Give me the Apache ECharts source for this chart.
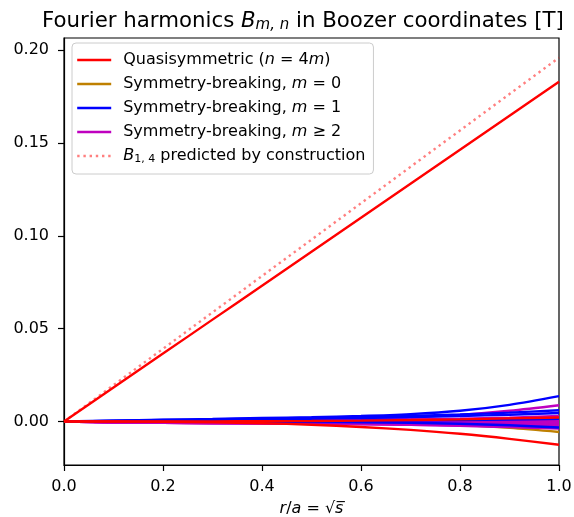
<!DOCTYPE html>
<html>
<head>
<meta charset="utf-8">
<script src="https://cdn.jsdelivr.net/npm/echarts@6/dist/echarts.min.js"></script>
<style>
  html, body { margin: 0; padding: 0; background: #fff; }
  #chart { width: 574px; height: 517px; }
</style>
</head>
<body>
<div id="chart"></div>
<script>
// Radial coordinate r/a = sqrt(s) at which each harmonic is sampled
const radius = [0, 0.1, 0.2, 0.3, 0.4, 0.5, 0.6, 0.7, 0.8, 0.9, 1.0];

// Quasisymmetric harmonics (n = 4m)
const quasisymmetric = [
  [0, 0.0183, 0.0366, 0.0549, 0.0732, 0.0915, 0.1098, 0.1281, 0.1464, 0.1647, 0.1830],
  [0, 0.0000, -0.0001, -0.0004, -0.0009, -0.0017, -0.0029, -0.0045, -0.0066, -0.0093, -0.0125],
  [0, 0.0000, 0.0000, 0.0001, 0.0002, 0.0003, 0.0005, 0.0008, 0.0012, 0.0017, 0.0022]
];

// Symmetry-breaking harmonics, m = 0
const breakingM0 = [
  [0, 0.0000, 0.0000, 0.0000, -0.0001, -0.0002, -0.0005, -0.0010, -0.0019, -0.0034, -0.0056],
  [0, 0.0000, 0.0000, 0.0000, 0.0000, 0.0000, -0.0001, -0.0001, -0.0002, -0.0003, -0.0004]
];

// Symmetry-breaking harmonics, m = 1
const breakingM1 = [
  [0, 0.0005, 0.0010, 0.0014, 0.0019, 0.0024, 0.0030, 0.0040, 0.0058, 0.0090, 0.0137],
  [0, 0.0004, 0.0008, 0.0012, 0.0016, 0.0020, 0.0024, 0.0030, 0.0038, 0.0048, 0.0061],
  [0, 0.0003, 0.0006, 0.0009, 0.0012, 0.0015, 0.0019, 0.0024, 0.0030, 0.0037, 0.0046],
  [0, 0.0000, 0.0000, -0.0001, -0.0001, -0.0002, -0.0004, -0.0007, -0.0012, -0.0020, -0.0032],
  [0, 0.0001, 0.0001, 0.0002, 0.0002, 0.0003, 0.0004, 0.0006, 0.0008, 0.0011, 0.0015]
];

// Symmetry-breaking harmonics, m >= 2
const breakingM2 = [
  [0, 0.0001, 0.0002, 0.0004, 0.0006, 0.0009, 0.0014, 0.0022, 0.0036, 0.0058, 0.0088],
  [0, 0.0001, 0.0002, 0.0003, 0.0004, 0.0006, 0.0008, 0.0011, 0.0015, 0.0021, 0.0030],
  [0, 0.0000, 0.0001, 0.0002, 0.0003, 0.0005, 0.0007, 0.0009, 0.0012, 0.0016, 0.0020],
  [0, -0.0001, -0.0001, -0.0001, 0.0000, 0.0001, 0.0003, 0.0005, 0.0008, 0.0011, 0.0015],
  [0, -0.0002, -0.0003, -0.0003, -0.0003, -0.0002, -0.0001, 0.0001, 0.0003, 0.0005, 0.0008],
  [0, -0.0003, -0.0005, -0.0006, -0.0006, -0.0006, -0.0005, -0.0004, -0.0003, -0.0001, 0.0002],
  [0, -0.0004, -0.0006, -0.0007, -0.0008, -0.0009, -0.0010, -0.0010, -0.0009, -0.0007, -0.0004],
  [0, -0.0005, -0.0007, -0.0008, -0.0009, -0.0010, -0.0011, -0.0012, -0.0013, -0.0013, -0.0010],
  [0, -0.0005, -0.0007, -0.0009, -0.0010, -0.0011, -0.0012, -0.0014, -0.0016, -0.0017, -0.0016],
  [0, -0.0004, -0.0007, -0.0009, -0.0010, -0.0012, -0.0014, -0.0016, -0.0019, -0.0021, -0.0022],
  [0, -0.0003, -0.0006, -0.0008, -0.0010, -0.0012, -0.0014, -0.0017, -0.0021, -0.0025, -0.0028],
  [0, -0.0002, -0.0004, -0.0006, -0.0008, -0.0010, -0.0013, -0.0017, -0.0023, -0.0030, -0.0038]
];

// B_{1,4} as predicted by the construction
const predicted = [0, 0.0196, 0.0392, 0.0588, 0.0784, 0.0980, 0.1176, 0.1372, 0.1568, 0.1764, 0.1960];

// Axis ticks
const xTicks = [0, 0.2, 0.4, 0.6, 0.8, 1.0];
const yTicks = [0, 0.05, 0.10, 0.15, 0.20];

const FONT = 'DejaVu Sans';
const NAMES = {
  qs: 'Quasisymmetric (n=4m)',
  m0: 'Symmetry-breaking, m=0',
  m1: 'Symmetry-breaking, m=1',
  m2: 'Symmetry-breaking, m>=2',
  pred: 'B14 predicted by construction'
};
const COLORS = { qs: '#ff0000', m0: '#bf8000', m1: '#0000ff', m2: '#bf00bf', pred: 'rgba(255,0,0,0.5)' };
const LINE_W = 2.4;

function pairs(values) {
  return radius.map((r, i) => [r, values[i]]);
}

function curve(name, color, values, extra) {
  return Object.assign({
    type: 'line',
    name: name,
    data: pairs(values),
    smooth: 0.3,
    symbol: 'none',
    silent: true,
    animation: false,
    lineStyle: { color: color, width: LINE_W, cap: 'butt' },
    itemStyle: { color: color }
  }, extra || {});
}

const series = [];
breakingM0.forEach(v => series.push(curve(NAMES.m0, COLORS.m0, v)));
breakingM2.forEach(v => series.push(curve(NAMES.m2, COLORS.m2, v)));
breakingM1.forEach(v => series.push(curve(NAMES.m1, COLORS.m1, v)));
quasisymmetric.forEach(v => series.push(curve(NAMES.qs, COLORS.qs, v)));
series.push(curve(NAMES.pred, COLORS.pred, predicted, {
  smooth: false,
  lineStyle: { color: COLORS.pred, width: LINE_W, type: [2.4, 3.8], cap: 'butt' }
}));

const legendText = {
  [NAMES.qs]: '{t|Quasisymmetric (}{i|n}{t| = 4}{i|m}{t|)}',
  [NAMES.m0]: '{t|Symmetry-breaking, }{i|m}{t| = 0}',
  [NAMES.m1]: '{t|Symmetry-breaking, }{i|m}{t| = 1}',
  [NAMES.m2]: '{t|Symmetry-breaking, }{i|m}{t| ≥ 2}',
  [NAMES.pred]: '{i|B}{sub|1, 4}{t| predicted by construction}'
};

const chart = echarts.init(document.getElementById('chart'), null, { renderer: 'canvas' });
chart.setOption({
  backgroundColor: '#ffffff',
  animation: false,
  title: {
    left: 37,
    top: 4,
    text: '{t|Fourier harmonics }{i|B}{sub|m, n}{t| in Boozer coordinates [T]}',
    textStyle: {
      fontFamily: FONT,
      fontWeight: 'normal',
      rich: {
        t: { fontFamily: FONT, fontSize: 21.3, fontWeight: 'normal', color: '#000' },
        i: { fontFamily: FONT, fontSize: 21.3, fontWeight: 'normal', fontStyle: 'italic', color: '#000' },
        sub: { fontFamily: FONT, fontSize: 15, fontWeight: 'normal', fontStyle: 'italic', color: '#000', verticalAlign: 'bottom', padding: [9, 0, 0, 0] }
      }
    }
  },
  legend: {
    orient: 'vertical',
    left: 72,
    top: 43,
    padding: [9, 8, 9, 4],
    itemGap: 8,
    itemWidth: 34,
    itemHeight: 16,
    borderColor: '#cccccc',
    borderWidth: 1,
    borderRadius: 4,
    backgroundColor: 'rgba(255,255,255,0.8)',
    selectedMode: false,
    itemStyle: { opacity: 0 },
    lineStyle: { width: LINE_W },
    data: [NAMES.qs, NAMES.m0, NAMES.m1, NAMES.m2, NAMES.pred],
    formatter: name => legendText[name],
    textStyle: {
      fontFamily: FONT,
      fontSize: 16,
      padding: [0, 0, 0, 7],
      rich: {
        t: { fontFamily: FONT, fontSize: 16, color: '#000' },
        i: { fontFamily: FONT, fontSize: 16, fontStyle: 'italic', color: '#000' },
        sub: { fontFamily: FONT, fontSize: 11, color: '#000', verticalAlign: 'bottom', padding: [7, 0, 0, 0] }
      }
    }
  },
  grid: {
    left: 64, top: 38, right: 15, bottom: 52,
    containLabel: false,
    outerBoundsMode: 'none',
    show: true, borderColor: '#000', borderWidth: 1.2, backgroundColor: 'transparent'
  },
  xAxis: {
    type: 'value',
    min: 0, max: 1, interval: 0.2,
    name: '{i|r}{t|/}{i|a}{t| = √}{o|s\u0305}',
    nameLocation: 'middle',
    nameGap: 36,
    nameTextStyle: {
      fontFamily: FONT,
      rich: {
        t: { fontFamily: FONT, fontSize: 16, color: '#000' },
        i: { fontFamily: FONT, fontSize: 16, fontStyle: 'italic', color: '#000' },
        o: { fontFamily: FONT, fontSize: 16, fontStyle: 'italic', color: '#000' }
      }
    },
    axisLine: { show: true, onZero: false, lineStyle: { color: '#000', width: 1.2 } },
    axisTick: { show: true, inside: false, length: 6, lineStyle: { color: '#000', width: 1.2 }, customValues: xTicks },
    axisLabel: { show: true, margin: 14, fontFamily: FONT, fontSize: 16, color: '#000', customValues: xTicks, formatter: v => v.toFixed(1) },
    splitLine: { show: false }
  },
  yAxis: {
    type: 'value',
    min: -0.0234, max: 0.2066,
    axisLine: { show: true, onZero: false, lineStyle: { color: '#000', width: 1.2 } },
    axisTick: { show: true, inside: false, length: 6, lineStyle: { color: '#000', width: 1.2 }, customValues: yTicks },
    axisLabel: { show: true, margin: 15, fontFamily: FONT, fontSize: 16, color: '#000', customValues: yTicks, formatter: v => v.toFixed(2) },
    splitLine: { show: false }
  },
  series: series
});
</script>
</body>
</html>
